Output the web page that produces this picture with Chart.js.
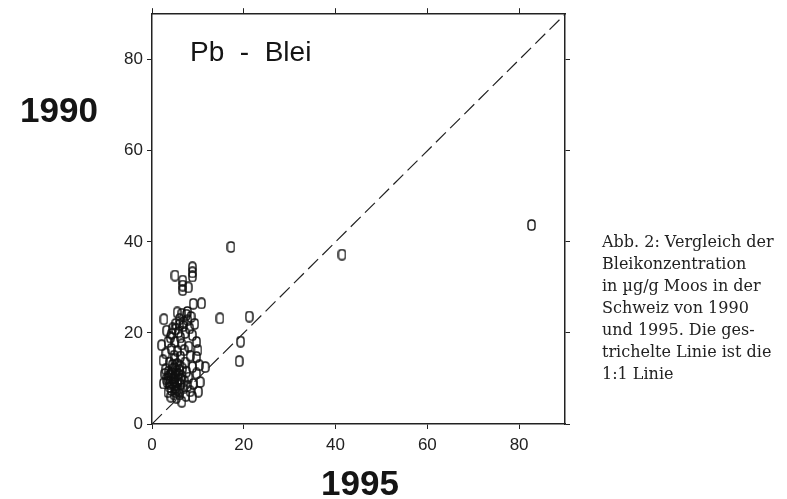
<!DOCTYPE html>
<html lang="de">
<head>
  <meta charset="UTF-8">
  <title>Pb - Blei</title>
  <script src="https://cdn.jsdelivr.net/npm/chart.js"></script>
  <style>
    body { margin: 0; background: #fff; }
    canvas { display: block; }
  </style>
</head>
<body>
  <canvas id="myChart" width="787" height="499"></canvas>

<script>
  // Blei in Moos: 1995 (x) gegen 1990 (y), µg/g
  const blei1995 = [
    82.7, 41.4, 17.2, 14.8, 21.2, 19.3, 19.0, 11.6, 10.1, 10.5, 6.5,
    8.8, 8.8, 8.8, 5.0, 6.7, 6.7, 6.7, 7.9, 9.0, 10.8,
    2.6, 5.5, 6.5, 7.5, 6.0, 7.8, 8.5, 5.2, 6.8, 8.2, 9.3, 4.5, 3.2, 5.8, 7.2, 8.8, 4.0, 6.2,
    2.1, 3.5, 5.0, 6.5, 9.7, 8.0, 4.2, 5.5, 7.0, 10.0, 3.0, 4.8, 6.2, 9.7, 8.3, 2.4, 3.8, 5.5, 7.2, 10.3, 8.8,
    3.0, 4.5, 6.0, 7.5, 9.7, 2.8, 4.0, 5.2, 6.5, 8.0, 3.5, 4.8, 5.8, 7.0, 2.5, 3.8, 5.0, 6.2, 7.8, 9.0,
    4.2, 5.5, 6.8, 8.3, 3.5, 4.8, 6.0, 7.4, 5.3, 8.8, 4.6, 5.7,
    3.3, 3.9, 4.4, 5.1, 5.6, 6.3, 3.6, 4.3, 4.9, 5.4, 6.1, 3.1, 3.7, 4.7, 5.2, 5.9, 4.1, 4.5, 5.0, 6.6,
    4.3, 5.1, 6.0, 6.9, 7.7
  ];
  const blei1990 = [
    43.7, 37.2, 38.9, 23.2, 23.6, 18.1, 13.8, 12.5, 7.1, 9.2, 4.9,
    34.4, 33.3, 32.4, 32.6, 31.5, 30.4, 29.4, 30.0, 26.4, 26.5,
    23.0, 24.5, 24.2, 24.0, 23.0, 22.8, 23.5, 22.0, 21.5, 21.0, 22.0, 21.0, 20.5, 20.2, 20.0, 19.5, 19.0, 19.0,
    17.3, 18.0, 18.0, 17.5, 18.0, 17.0, 16.5, 16.0, 16.2, 16.2, 15.5, 15.0, 14.8, 14.7, 15.0, 14.0, 13.5, 13.2, 13.5, 12.9, 12.5,
    12.0, 12.0, 11.8, 11.5, 11.1, 11.0, 10.8, 10.5, 10.5, 10.2, 10.0, 9.5, 9.8, 9.4, 8.9, 8.8, 8.5, 8.7, 8.4, 8.8,
    7.5, 7.5, 7.8, 7.2, 7.0, 6.5, 6.5, 6.2, 5.8, 6.0, 10.0, 11.0,
    9.2, 8.1, 9.0, 8.0, 9.3, 9.9, 11.5, 11.2, 12.4, 11.7, 12.8, 9.8, 10.6, 10.1, 7.0, 7.2, 6.0, 13.0, 14.3, 12.2,
    19.8, 20.8, 21.8, 22.4, 24.6
  ];
  const lineX = [0, 90];
  const lineY = [0, 90];
  const axisMin = 0;
  const axisMax = 90;
  const tickStep = 20;

  const captionLines = [
    'Abb. 2: Vergleich der',
    'Bleikonzentration',
    'in µg/g Moos in der',
    'Schweiz von 1990',
    'und 1995. Die ges-',
    'trichelte Linie ist die',
    '1:1 Linie'
  ];

  const points = blei1995.map((x, i) => ({ x: x, y: blei1990[i] }));
  const diagonal = lineX.map((x, i) => ({ x: x, y: lineY[i] }));

  // "0"-shaped marker like the original plot
  const marker = document.createElement('canvas');
  marker.width = 9;
  marker.height = 12;
  const mctx = marker.getContext('2d');
  mctx.strokeStyle = '#111';
  mctx.lineWidth = 1.4;
  mctx.beginPath();
  mctx.roundRect(1, 1, 7, 10, 3.3);
  mctx.stroke();

  const ink = '#222';

  const labelsPlugin = {
    id: 'labels',
    afterDraw(chart) {
      const ctx = chart.ctx;
      ctx.save();
      ctx.fillStyle = '#151515';

      ctx.textAlign = 'left';
      ctx.textBaseline = 'alphabetic';
      ctx.font = '28px "Liberation Sans", Arial, sans-serif';
      ctx.fillText('Pb  -  Blei', 190, 61);

      ctx.textAlign = 'center';
      ctx.font = 'bold 35px "Liberation Sans", Arial, sans-serif';
      ctx.fillText('1990', 59, 122);
      ctx.fillText('1995', 360, 495);

      ctx.textAlign = 'left';
      ctx.fillStyle = '#222';
      ctx.font = '16px "DejaVu Serif", serif';
      captionLines.forEach((line, i) => {
        ctx.fillText(line, 602, 247 + i * 22);
      });
      ctx.restore();
    }
  };

  function fixWidth(w) {
    return scale => { scale.width = w; };
  }
  function fixHeight(h) {
    return scale => { scale.height = h; };
  }

  const tickFont = { family: '"Liberation Sans", Arial, sans-serif', size: 17 };

  const ctx = document.getElementById('myChart').getContext('2d');
  new Chart(ctx, {
    type: 'scatter',
    data: {
      datasets: [{
        type: 'line',
        data: diagonal,
        borderColor: '#222',
        borderWidth: 1.2,
        borderDash: [14, 6],
        pointRadius: 0,
        fill: false
      }, {
        data: points,
        pointStyle: marker,
        pointRadius: 4,
        backgroundColor: 'rgba(0,0,0,0)',
        borderColor: ink
      }]
    },
    options: {
      responsive: false,
      animation: false,
      events: [],
      layout: { padding: 0 },
      plugins: {
        legend: { display: false },
        tooltip: { enabled: false }
      },
      scales: {
        x: {
          type: 'linear',
          position: 'bottom',
          min: axisMin,
          max: axisMax,
          afterFit: fixHeight(75),
          border: { display: true, color: ink, width: 1.5 },
          grid: { drawOnChartArea: false, drawTicks: true, tickLength: 5, color: ink },
          ticks: { stepSize: tickStep, includeBounds: false, maxRotation: 0, padding: 6, color: '#222', font: tickFont }
        },
        x2: {
          type: 'linear',
          position: 'top',
          min: axisMin,
          max: axisMax,
          afterFit: fixHeight(12),
          border: { display: true, color: ink, width: 1.5 },
          grid: { drawOnChartArea: false, drawTicks: true, tickLength: 6, color: ink },
          ticks: { stepSize: tickStep, includeBounds: false, maxRotation: 0, color: 'rgba(0,0,0,0)', font: tickFont }
        },
        y: {
          type: 'linear',
          position: 'left',
          min: axisMin,
          max: axisMax,
          afterFit: fixWidth(152),
          border: { display: true, color: ink, width: 1.5 },
          grid: { drawOnChartArea: false, drawTicks: true, tickLength: 5, color: ink },
          ticks: { stepSize: tickStep, includeBounds: false, padding: 4, color: '#222', font: tickFont }
        },
        y2: {
          type: 'linear',
          position: 'right',
          min: axisMin,
          max: axisMax,
          afterFit: fixWidth(222),
          border: { display: true, color: ink, width: 1.5 },
          grid: { drawOnChartArea: false, drawTicks: true, tickLength: 5, color: ink },
          ticks: { stepSize: tickStep, includeBounds: false, color: 'rgba(0,0,0,0)', font: tickFont }
        }
      }
    },
    plugins: [labelsPlugin]
  });
</script>
</body>
</html>
